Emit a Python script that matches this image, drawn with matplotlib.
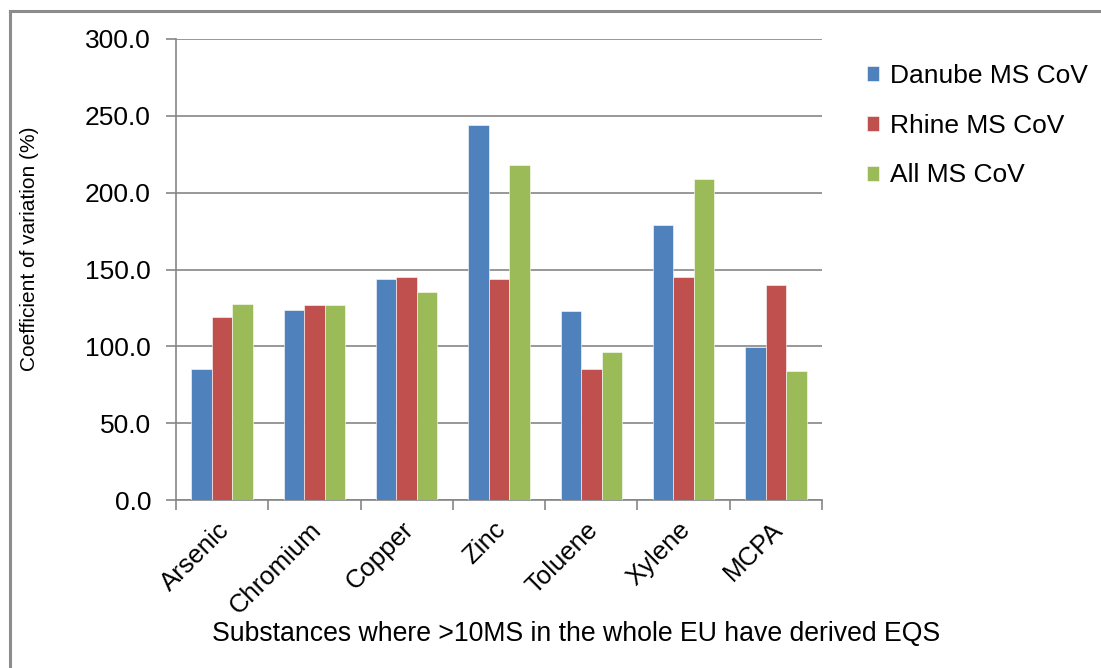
import numpy as np
import matplotlib.pyplot as plt
import matplotlib.transforms as mtransforms
from matplotlib.lines import Line2D

plt.rcParams['font.family'] = ['Liberation Sans', 'DejaVu Sans']

substances = ['Arsenic', 'Chromium', 'Copper', 'Zinc', 'Toluene', 'Xylene', 'MCPA']
danube = [85.2, 123.6, 143.6, 243.8, 122.8, 178.8, 99.6]
rhine = [118.9, 126.9, 145.3, 143.6, 85.2, 145.3, 139.7]
all_ms = [127.8, 126.9, 135.6, 218.0, 96.5, 209.1, 83.7]
yticks = [0, 50, 100, 150, 200, 250, 300]

series = [('Danube MS CoV', danube, '#4F81BD'),
          ('Rhine MS CoV', rhine, '#C0504D'),
          ('All MS CoV', all_ms, '#9BBB59')]

fig = plt.figure(figsize=(11.01, 6.68), dpi=100)
ax = fig.add_axes([176/1101, 1-500/668, (822-176)/1101, (500-39)/668])

x = np.arange(len(substances))
w = 0.222
for k, (name, vals, col) in enumerate(series):
    ax.bar(x + (k-1)*w, vals, w, color=col, label=name, zorder=3,
           edgecolor='white', linewidth=0.4)

grey = '#868686'
ax.set_xlim(-0.5, len(substances)-0.5)
ax.set_ylim(0, 300)
ax.set_yticks(yticks)
ax.set_yticklabels([f'{v:.1f}' for v in yticks], fontsize=19)
ax.grid(axis='y', color=grey, linewidth=1.2, zorder=0)
ax.set_xticks(np.arange(-0.5, len(substances)))
ax.set_xticklabels([])
ax.tick_params(axis='x', length=7, color=grey, width=1.2, direction='out')
ax.tick_params(axis='y', length=7, color=grey, width=1.2, pad=11)

# category names, rotated 45 deg and ending under the group centre
off = mtransforms.ScaledTranslation(0.03, -0.26, fig.dpi_scale_trans)
for i, name in enumerate(substances):
    ax.text(i, 0, name, transform=ax.get_xaxis_transform() + off, rotation=45,
            rotation_mode='anchor', ha='right', va='center', fontsize=18.5)

for s in ['top', 'right']:
    ax.spines[s].set_visible(False)
for s in ['left', 'bottom']:
    ax.spines[s].set_color(grey)
    ax.spines[s].set_linewidth(1.2)

fig.text(30/1101, 1-249/668, 'Coefficient of variation (%)', rotation=90,
         ha='center', va='center', fontsize=15)
fig.text(576/1101, 1-634/668, 'Substances where >10MS in the whole EU have derived EQS',
         ha='center', va='center', fontsize=19.2)

leg = fig.legend(loc='upper left', bbox_to_anchor=(843/1101, 1-40/668), frameon=False,
                 fontsize=19, handlelength=0.45, handleheight=0.5, handletextpad=0.45,
                 labelspacing=0.98)

# outer frame, only top and left edges visible
fig.add_artist(Line2D([10/1101, 1], [1-11/668, 1-11/668], color='#8c8c8c', linewidth=2.2))
fig.add_artist(Line2D([10/1101, 10/1101], [0, 1-11/668], color='#8c8c8c', linewidth=2.2))

fig.savefig('out.png', dpi=100)
